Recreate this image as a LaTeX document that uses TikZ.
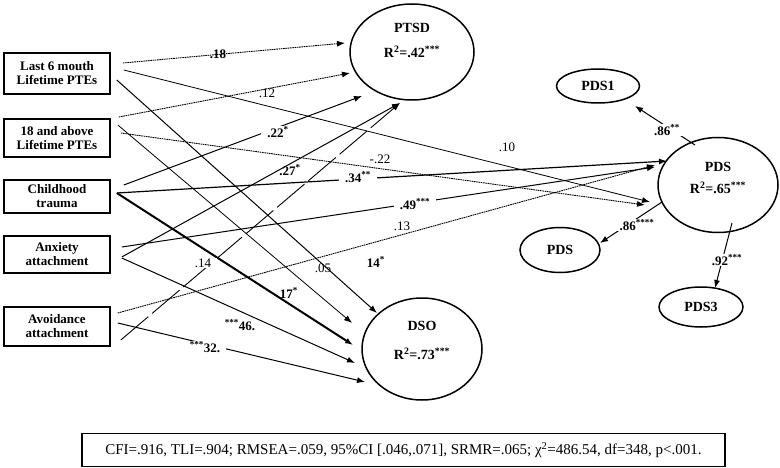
\documentclass[tikz,border=0pt]{standalone}
\usepackage{fontspec}
\setmainfont{Liberation Serif}
\usetikzlibrary{arrows.meta,shapes.geometric,calc}
\begin{document}
\begin{tikzpicture}[x=1pt,y=-1pt,
  box/.style={draw,line width=1.6pt,minimum width=106pt,inner sep=0pt,align=center,font=\fontsize{13}{14}\selectfont\bfseries},
  lat/.style={draw,ellipse,line width=1.5pt,inner sep=0pt},
  ltxt/.style={font=\fontsize{14}{16}\selectfont\bfseries,inner sep=1pt},
  cf/.style={font=\fontsize{13}{15}\selectfont\bfseries,inner sep=1pt},
  cfr/.style={font=\fontsize{13}{15}\selectfont,inner sep=1pt},
  gap/.style={fill=white,inner xsep=6pt,inner ysep=1pt},
  arr/.style={-{Latex[length=8pt,width=6pt]},line width=1pt},
  dotl/.style={arr,line width=0.9pt,dash pattern=on 1.6pt off 0.7pt},
  longdash/.style={arr,line width=0.9pt,dash pattern=on 36pt off 5pt},
  heavyarr/.style={arr,line width=2pt},
]
\useasboundingbox (0,0) rectangle (780,468);

% observed boxes
\node[box,minimum height=41pt] (b1) at (57,73.5) {Last 6 mouth\\Lifetime PTEs};
\node[box,minimum height=38pt] (b2) at (57,138) {18 and above\\Lifetime PTEs};
\node[box,minimum height=33pt] (b3) at (57,196.5) {Childhood\\trauma};
\node[box,minimum height=37pt] (b4) at (57,254.5) {Anxiety\\attachment};
\node[box,minimum height=39pt] (b5) at (57,326.5) {Avoidance\\attachment};

% latent variables
\node[lat,minimum width=124pt,minimum height=96pt] (ptsd) at (412,52) {};
\node[ltxt] (ptsdname) at (412,28) {PTSD};
\node[ltxt] (ptsdr) at (412,52) {R\textsuperscript{2}=.42\textsuperscript{***}};

\node[lat,minimum width=120pt,minimum height=102pt] (dso) at (422,349) {};
\node[ltxt] (dsoname) at (422,326) {DSO};
\node[ltxt] (dsor) at (422,354) {R\textsuperscript{2}=.73\textsuperscript{***}};

\node[lat,minimum width=120pt,minimum height=95pt] (pds) at (718,185) {};
\node[ltxt] (pdsname) at (718,167) {PDS};
\node[ltxt] (pdsr) at (718,188) {R\textsuperscript{2}=.65\textsuperscript{***}};

\node[lat,minimum width=83pt,minimum height=34pt,ltxt] (pds1) at (598,86) {PDS1};
\node[lat,minimum width=80pt,minimum height=45pt,ltxt] (pds2) at (560,250) {PDS};
\node[lat,minimum width=84pt,minimum height=40pt,ltxt] (pds3) at (701,307) {PDS3};

% paths to PTSD
\draw[dotl] ($(b1.east)+(12,-10.5)$) -- ($(ptsd)+(-67,-9)$);
\draw[dotl] ($(b2.east)+(8,-21)$) -- ($(ptsd)+(-62,21)$);
\draw[arr] ($(b3.east)+(13,-11.5)$) -- ($(ptsd)+(-50,44)$);
\draw[arr] ($(b4.east)+(11,2.5)$) -- ($(ptsd)+(-12,51)$);
\draw[longdash] ($(b5.east)+(10,13.5)$) -- ($(ptsd)+(-12,51)$);

% paths to PDS
\draw[arr,line width=0.8pt] ($(b1.east)+(13,-3.5)$) -- ($(pds)+(-68,17)$);
\draw[dotl] ($(b2.east)+(10,-5)$) -- ($(pds)+(-73,20)$);
\draw[arr,line width=1.2pt] ($(b3.east)+(6,-3.5)$) -- ($(pds)+(-51,-24)$);
\draw[arr] ($(b4.east)+(11,-7.5)$) -- ($(pds)+(-63,-18)$);
\draw[dotl] ($(b5.east)+(7,-13.5)$) -- ($(pds)+(-63,-20)$);

% paths to DSO
\draw[arr] ($(b1.east)+(6,6.5)$) -- ($(dso)+(-45,-36)$);
\draw[arr,line width=0.8pt] ($(b2.east)+(7,-13)$) -- ($(dso)+(-70,-26)$);
\draw[heavyarr] ($(b3.east)+(6,-3.5)$) -- ($(dso)+(-69,-4)$);
\draw[arr] ($(b4.east)+(11,3.5)$) -- ($(dso)+(-67,14)$);
\draw[arr] ($(b5.east)+(7,-3.5)$) -- ($(dso)+(-57,33)$);

% loadings
\draw[arr] ($(pds)+(-23,-40)$) -- ($(pds1)+(37,20)$);
\draw[arr] ($(pds)+(-56,17)$) -- ($(pds2)+(40,-7)$);
\draw[arr] ($(pds)+(14,38)$) -- ($(pds3)+(14,-19)$);

% coefficient labels
\node[cf] (l18) at (218,54) {.18};
\node[cfr] (l12) at (267,93) {.12};
\node[cf,gap] (l22) at (278,132) {.22\textsuperscript{*}};
\node[cfr,gap] (lm22) at (380,159) {-.22};
\node[cf] (l27) at (290,170) {.27\textsuperscript{*}};
\node[cf,gap] (l34) at (358,177) {.34\textsuperscript{**}};
\node[cfr] (l10) at (507,147) {.10};
\node[cf,gap] (l49) at (415,204) {.49\textsuperscript{***}};
\node[cfr] (l13) at (402,226) {.13};
\node[cfr,gap] (l14) at (203,263) {.14};
\node[cfr] (l05) at (323,268) {.05};
\node[cf] (l14s) at (376,262) {14\textsuperscript{*}};
\node[cf] (l17) at (289,293) {17\textsuperscript{*}};
\node[cf] (l46) at (240,325) {\textsuperscript{***}46.};
\node[cf,gap] (l32) at (205,347) {\textsuperscript{***}32.};
\node[cf,gap] (l86a) at (667,130) {.86\textsuperscript{**}};
\node[cf,gap] (l86b) at (637,225) {.86\textsuperscript{****}};
\node[cf,gap] (l92) at (727,260) {.92\textsuperscript{***}};

% fit indices
\node[draw,line width=1.3pt,minimum width=643pt,minimum height=33pt,inner sep=0pt,font=\fontsize{15}{17}\selectfont] (fit) at (403.5,450) {CFI=.916, TLI=.904; RMSEA=.059, 95\%CI [.046,.071], SRMR=.065; χ\textsuperscript{2}=486.54, df=348, p<.001.};
\end{tikzpicture}
\end{document}
